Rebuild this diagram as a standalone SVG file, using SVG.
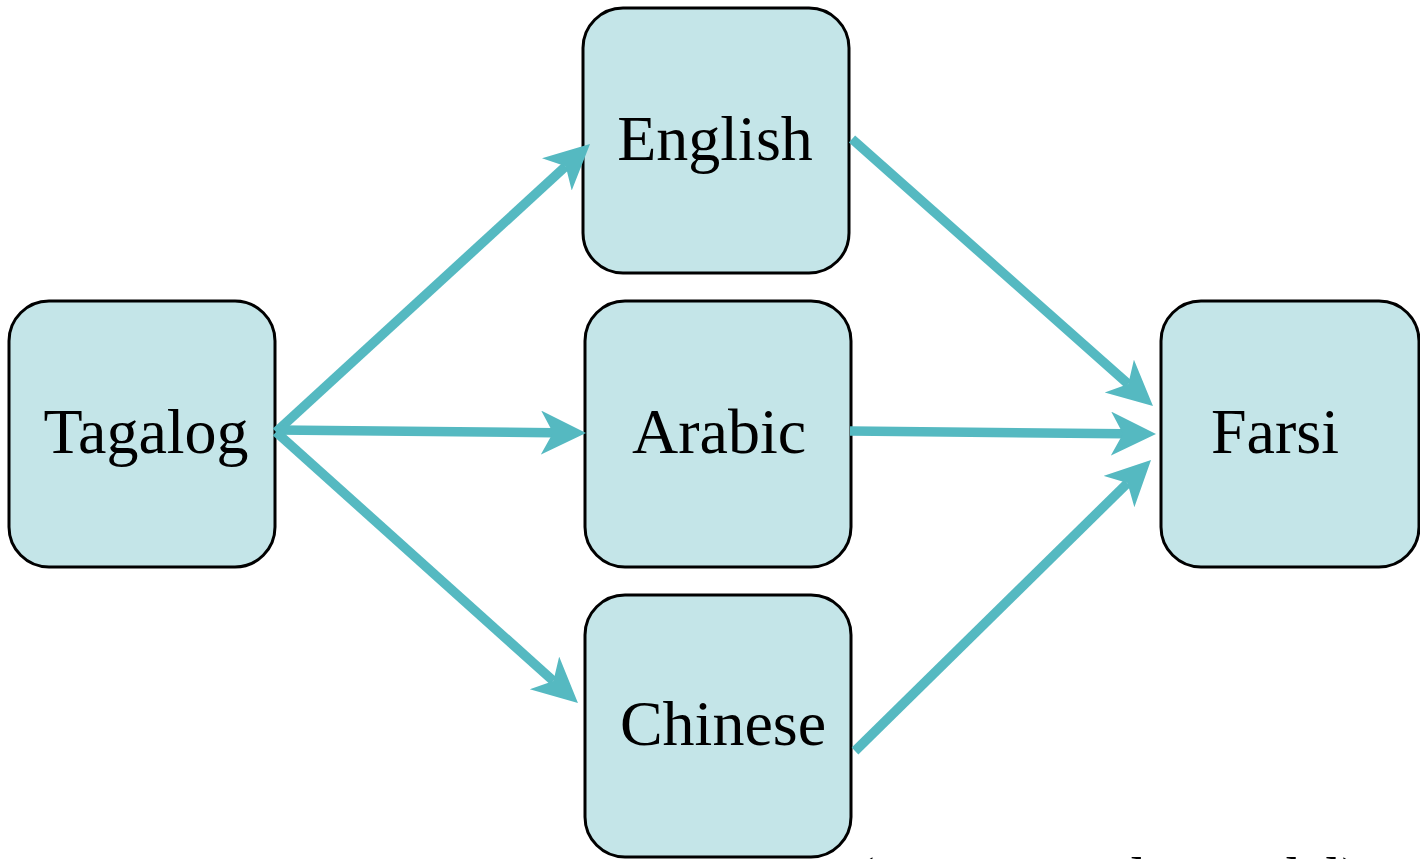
<svg xmlns="http://www.w3.org/2000/svg" width="1420" height="859" viewBox="0 0 1420 859">
<style>
.box{fill:#C4E5E8;stroke:#000;stroke-width:3}
.lbl{font-family:"Liberation Serif","Times New Roman",serif;font-size:64px;fill:#000;text-anchor:middle}
.edge{stroke:#55B9C1;stroke-width:9.5;fill:none}
.note{font-family:"Liberation Serif","Times New Roman",serif;font-size:58px;fill:#000}
</style>
<defs>
<marker id="ah" markerUnits="userSpaceOnUse" markerWidth="50" markerHeight="50" refX="12" refY="22" orient="auto">
<path d="M0,0 L45,22 L0,44 L12,22 Z" fill="#55B9C1"/>
</marker>
</defs>
<g id="node-tagalog"><rect class="box" x="9" y="301" width="266" height="266" rx="40"/><text class="lbl" x="146" y="453">Tagalog</text></g>
<g id="node-english"><rect class="box" x="583" y="8" width="266" height="265" rx="40"/><text class="lbl" x="715" y="160">English</text></g>
<g id="node-arabic"><rect class="box" x="585" y="301" width="266" height="266" rx="40"/><text class="lbl" x="719" y="453">Arabic</text></g>
<g id="node-chinese"><rect class="box" x="585" y="595" width="266" height="262" rx="40"/><text class="lbl" x="723" y="745">Chinese</text></g>
<g id="node-farsi"><rect class="box" x="1161" y="301" width="258" height="266" rx="40"/><text class="lbl" x="1275" y="453">Farsi</text></g>
<g id="connectors">
<path class="edge" d="M276,432 L565.7,166.3" marker-end="url(#ah)"/>
<path class="edge" d="M276,430 L553,432.7" marker-end="url(#ah)"/>
<path class="edge" d="M276,432 L553.4,681" marker-end="url(#ah)"/>
<path class="edge" d="M852,139 L1128.3,384.1" marker-end="url(#ah)"/>
<path class="edge" d="M850,431 L1123,433.7" marker-end="url(#ah)"/>
<path class="edge" d="M855,751 L1127.5,483.1" marker-end="url(#ah)"/>
</g>
<text class="note" x="855" y="897">(Human Only Model)</text>
</svg>
